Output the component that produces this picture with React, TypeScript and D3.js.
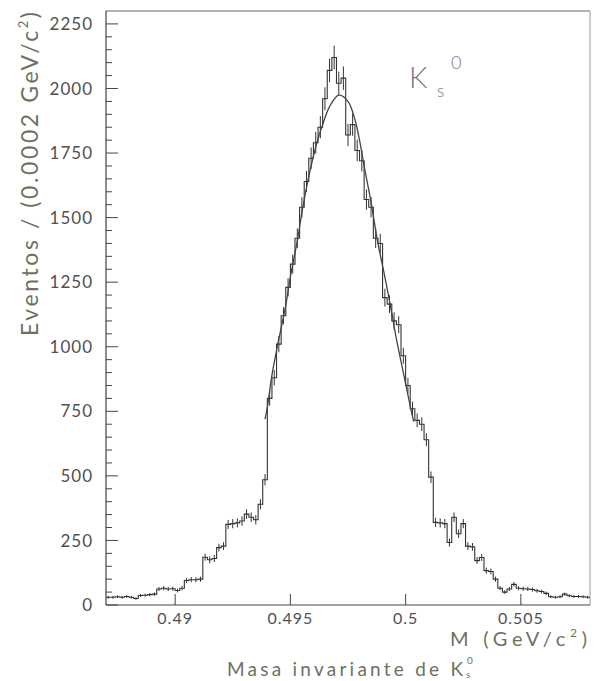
import React from "react";
import * as d3 from "d3";

// Histogram definition (bins of 0.0002 GeV/c^2)
const massMin = 0.487;
const massMax = 0.508;
const binWidth = 0.0002;
const counts = [
  30, 30, 32, 30, 33, 30, 25, 37, 38, 40,
  42, 62, 65, 62, 63, 56, 65, 95, 98, 98,
  100, 185, 175, 180, 222, 228, 312, 315, 318, 325,
  352, 340, 330, 390, 485, 800, 880, 1010, 1120, 1230,
  1320, 1420, 1540, 1640, 1730, 1790, 1850, 1960, 2070, 2120,
  2020, 2040, 1820, 1860, 1760, 1720, 1570, 1540, 1420, 1400,
  1190, 1165, 1100, 1085, 965, 850, 760, 715, 700, 640,
  495, 320, 318, 315, 242, 340, 276, 315, 228, 225,
  172, 184, 133, 130, 100, 65, 50, 62, 80, 65,
  63, 62, 60, 55, 52, 45, 32, 30, 32, 42,
  36, 33, 33, 32, 30,
];

// Fitted curve, points
const fitMass = [
  0.4939, 0.494, 0.4942, 0.4945, 0.4948, 0.495, 0.4953, 0.4955, 0.4958,
  0.49615, 0.4964, 0.4967, 0.4971, 0.4975, 0.4978, 0.498, 0.4982, 0.4985,
  0.4988, 0.4991, 0.4994, 0.4996, 0.4999, 0.5002, 0.50035,
];
const fitValue = [
  720, 765, 890, 1030, 1160, 1270, 1410, 1520, 1660,
  1790, 1860, 1930, 1974, 1950, 1880, 1800, 1700, 1560,
  1400, 1270, 1130, 1030, 900, 770, 710,
];

const yMajorTicks = [0, 250, 500, 750, 1000, 1250, 1500, 1750, 2000, 2250];
const yTickLabels = ["0", "250", "500", "750", "1000", "1250", "1500", "1750", "2000", "2250"];
const xMajorTicks = [0.49, 0.495, 0.5, 0.505];
const xTickLabels = ["0.49", "0.495", "0.5", "0.505"];

const W = 595;
const H = 681;
const L = 106, R = 590, T = 11, B = 605;

export default function App() {
  const x = d3.scaleLinear().domain([massMin, massMax]).range([L, R]);
  const y = d3.scaleLinear().domain([0, 2300]).range([B, T]);

  // step outline
  let d = "";
  counts.forEach((c, i) => {
    const x0 = x(massMin + i * binWidth);
    const x1 = x(massMin + (i + 1) * binWidth);
    d += (i === 0 ? `M${x0},${y(c)}` : `L${x0},${y(c)}`) + `L${x1},${y(c)}`;
  });

  const errBars = counts.map((c, i) => {
    const xc = x(massMin + (i + 0.5) * binWidth);
    const e = Math.sqrt(c);
    return { xc, y0: y(c - e), y1: y(c + e) };
  });

  const fitLine = d3
    .line<number>()
    .x((_, i) => x(fitMass[i]))
    .y((v) => y(v))
    .curve(d3.curveCatmullRom.alpha(0.5))(fitValue) as string;

  const yMinor = d3.range(0, 2300, 50).filter((v) => v % 250 !== 0);

  const tickFont = "Lato, 'DejaVu Sans', sans-serif";
  const tickColor = "#505050";
  const titleColor = "#6c725f";

  return (
    <svg
      width={W}
      height={H}
      style={{ position: "absolute", left: 0, top: 0, background: "#fff" }}
    >
      {/* frame */}
      <line x1={L} y1={T} x2={R} y2={T} stroke="#666" strokeWidth={1} />
      <line x1={R} y1={T} x2={R} y2={B} stroke="#999" strokeWidth={1} />
      <line x1={L} y1={T} x2={L} y2={B} stroke="#444" strokeWidth={1.2} />
      <line x1={L} y1={B} x2={R} y2={B} stroke="#444" strokeWidth={1.2} />

      {/* y ticks */}
      {yMajorTicks.map((v) => (
        <line key={"ym" + v} x1={L} x2={L + 12} y1={y(v)} y2={y(v)} stroke="#444" strokeWidth={1} />
      ))}
      {yMinor.map((v) => (
        <line key={"yn" + v} x1={L} x2={L + 6} y1={y(v)} y2={y(v)} stroke="#444" strokeWidth={1} />
      ))}
      {yMajorTicks.map((v, i) => (
        <text
          key={"yl" + v}
          x={93}
          y={y(v)}
          dy="0.36em"
          textAnchor="end"
          fontFamily={tickFont}
          fontSize={17}
          letterSpacing={1}
          fill={tickColor}
        >
          {yTickLabels[i]}
        </text>
      ))}

      {/* x ticks */}
      {xMajorTicks.map((v) => (
        <line key={"xm" + v} x1={x(v)} x2={x(v)} y1={B} y2={B - 11} stroke="#444" strokeWidth={1} />
      ))}
      {xMajorTicks.map((v, i) => (
        <text
          key={"xl" + v}
          x={x(v)}
          y={624}
          textAnchor="middle"
          fontFamily={tickFont}
          fontSize={16}
          letterSpacing={1}
          fill={tickColor}
        >
          {xTickLabels[i]}
        </text>
      ))}

      {/* histogram */}
      <path d={d} fill="none" stroke="#333" strokeWidth={1.1} />
      {errBars.map((e, i) => (
        <line key={"e" + i} x1={e.xc} x2={e.xc} y1={e.y0} y2={e.y1} stroke="#333" strokeWidth={1} />
      ))}

      {/* fit */}
      <path d={fitLine} fill="none" stroke="#444" strokeWidth={1.3} />

      {/* K_s^0 label */}
      <text x={409} y={88} fontFamily={tickFont} fontWeight={300} fontSize={29} fill="#777">
        K
      </text>
      <text x={437} y={97} fontFamily={tickFont} fontWeight={300} fontSize={17} fill="#777">
        s
      </text>
      <text x={451} y={69} fontFamily={tickFont} fontWeight={300} fontSize={18} fill="#777">
        0
      </text>

      {/* y title */}
      <text
        transform="translate(38,336) rotate(-90)"
        x={0}
        y={0}
        fontFamily={tickFont}
        fontSize={23}
        fill={titleColor}
        textLength={324}
        lengthAdjust="spacing"
      >
        Eventos / (0.0002 GeV/c
        <tspan dy={-10} fontSize={13}>2</tspan>
        <tspan dy={10}>)</tspan>
      </text>

      {/* x title */}
      <text
        x={450}
        y={646}
        fontFamily={tickFont}
        fontSize={20}
        fill={titleColor}
        textLength={137}
        lengthAdjust="spacing"
      >
        M (GeV/c
        <tspan dy={-9} fontSize={12}>2</tspan>
        <tspan dy={9}>)</tspan>
      </text>
      <text
        x={227}
        y={676}
        fontFamily={tickFont}
        fontSize={19}
        fill={titleColor}
        textLength={236}
        lengthAdjust="spacing"
      >
        Masa invariante de K
      </text>
      <text x={466} y={678} fontFamily={tickFont} fontSize={10} fill={titleColor}>
        s
      </text>
      <text x={467} y={664} fontFamily={tickFont} fontSize={10} fill={titleColor}>
        0
      </text>
    </svg>
  );
}
